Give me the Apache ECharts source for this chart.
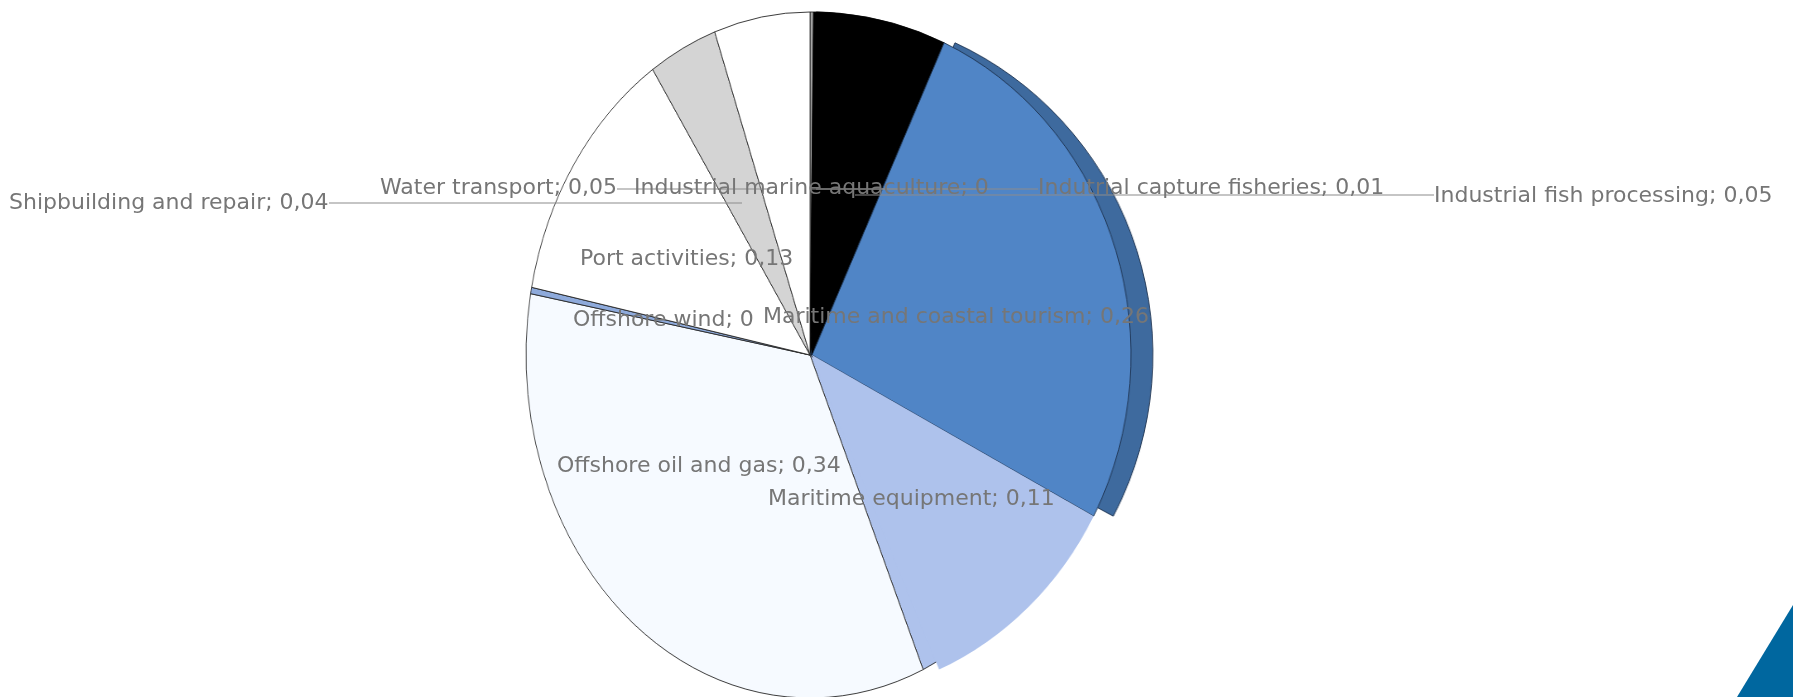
<!DOCTYPE html>
<html><head><meta charset="utf-8">
<script src="https://cdn.jsdelivr.net/npm/echarts@6/dist/echarts.min.js"></script>
<style>
html,body{margin:0;padding:0;background:#fff;}
#wrap{position:relative;width:1793px;height:697px;overflow:hidden;background:#fff;}
.layer{position:absolute;left:0;top:0;width:1793px;height:697px;}
#pieMain{transform:scaleX(0.828);transform-origin:810px 0;}
#pieSide{transform:scaleX(0.985);transform-origin:815px 0;}
#pieFront{transform:scaleX(0.93);transform-origin:812px 0;}
</style></head><body>
<div id="wrap">
<div id="pieMain" class="layer"></div>
<div id="pieSide" class="layer"></div>
<div id="pieFront" class="layer"></div>
<div id="labels" class="layer"></div>
</div>
<script>
// ---- data ----
const categories = [
  'Industrial marine aquaculture',
  'Indutrial capture fisheries',
  'Industrial fish processing',
  'Maritime and coastal tourism',
  'Maritime equipment',
  'Offshore oil and gas',
  'Offshore wind',
  'Port activities',
  'Shipbuilding and repair',
  'Water transport'
];
const values = [0.002, 0.012, 0.054, 0.26, 0.107, 0.344, 0.003, 0.125, 0.039, 0.0545];
const highlighted = 'Maritime and coastal tourism';
// slices drawn on the nearer (wider) face of the tilted pie
const frontSlices = ['Indutrial capture fisheries', 'Industrial fish processing', 'Maritime and coastal tourism', 'Maritime equipment'];

// ---- styles / layout (kept apart from data) ----
const sliceColors = ['#a6a6a6', '#000000', '#000000', '#5085c6', '#aec2ec', '#f6faff', '#8eaadb', '#ffffff', '#d4d4d4', '#ffffff'];
const sliceBorders = ['#262626', '#000000', '#000000', '#1e3350', '#262626', '#262626', '#262626', '#262626', '#262626', '#262626'];
const sideColor = '#3e6a9e';
const PIE_CX = 810, PIE_CY = 355, PIE_R = 343;
// label anchor (left, middle)
const labelPos = [
  [634, 188], [1038, 188], [1434, 196], [763, 317], [768, 499],
  [557, 466], [573, 320], [580, 259], [9, 203], [380, 188]
];
// leader line end points
const leaderLines = [
  [[988, 189], [811, 189]],
  [[1038, 189], [816, 189]],
  [[1434, 195], [855, 195]],
  null, null, null, null, null,
  [[329, 203], [742, 203]],
  [[617, 189], [770, 189]]
];

function fmt(v) {
  const r = Math.round(v * 100) / 100;
  return r === 0 ? '0' : r.toFixed(2).replace('.', ',');
}

const hidden = { color: 'rgba(0,0,0,0)', borderWidth: 0 };

function basePie(extra) {
  return Object.assign({
    type: 'pie',
    center: [PIE_CX, PIE_CY],
    radius: PIE_R,
    startAngle: 90,
    clockwise: true,
    silent: true,
    animation: false,
    avoidLabelOverlap: false,
    label: { show: false },
    labelLine: { show: false },
    emphasis: { disabled: true }
  }, extra);
}

// main pie (all slices)
echarts.init(document.getElementById('pieMain')).setOption({
  animation: false,
  series: [basePie({
    data: categories.map((c, i) => ({
      name: c, value: values[i],
      itemStyle: { color: sliceColors[i], borderColor: sliceBorders[i], borderWidth: 0.9 }
    }))
  })]
});

// darker side of the highlighted slice
echarts.init(document.getElementById('pieSide')).setOption({
  animation: false,
  series: [basePie({
    center: [PIE_CX + 5, PIE_CY],
    data: categories.map((c, i) => ({
      name: c, value: values[i],
      itemStyle: c === highlighted
        ? { color: sideColor, borderColor: '#1e3350', borderWidth: 0.9 }
        : hidden
    }))
  })]
});

// nearer face
echarts.init(document.getElementById('pieFront')).setOption({
  animation: false,
  series: [basePie({
    center: [PIE_CX + 2, PIE_CY],
    data: categories.map((c, i) => {
      let st = hidden;
      if (frontSlices.indexOf(c) >= 0) {
        st = { color: sliceColors[i], borderColor: sliceBorders[i], borderWidth: 0.9 };
        if (c === 'Maritime equipment') st.borderWidth = 0;
      }
      return { name: c, value: values[i], itemStyle: st };
    })
  })]
});

// labels layer
echarts.init(document.getElementById('labels')).setOption({
  animation: false,
  graphic: [{
    type: 'polygon',
    silent: true,
    shape: { points: [[1793, 605], [1737, 697], [1793, 697]] },
    style: { fill: '#00679f' }
  }],
  series: [basePie({
    data: categories.map((c, i) => ({
      name: c, value: values[i],
      itemStyle: hidden,
      labelLine: { show: !!leaderLines[i], lineStyle: { color: '#8c8c8c', width: 1.2 } }
    })),
    label: {
      show: true,
      position: 'outside',
      formatter: p => p.name + '; ' + fmt(p.value),
      color: '#767676',
      fontFamily: 'DejaVu Sans',
      fontSize: 22
    },
    labelLine: { show: true, lineStyle: { color: '#8c8c8c', width: 1.2 } },
    labelLayout: function (params) {
      const i = params.dataIndex;
      const res = {
        x: labelPos[i][0],
        y: labelPos[i][1],
        align: 'left',
        verticalAlign: 'middle'
      };
      if (leaderLines[i]) {
        const a = leaderLines[i][0], b = leaderLines[i][1];
        res.labelLinePoints = [a, [(a[0] + b[0]) / 2, a[1]], b];
      }
      return res;
    }
  })]
});
</script>
</body></html>
